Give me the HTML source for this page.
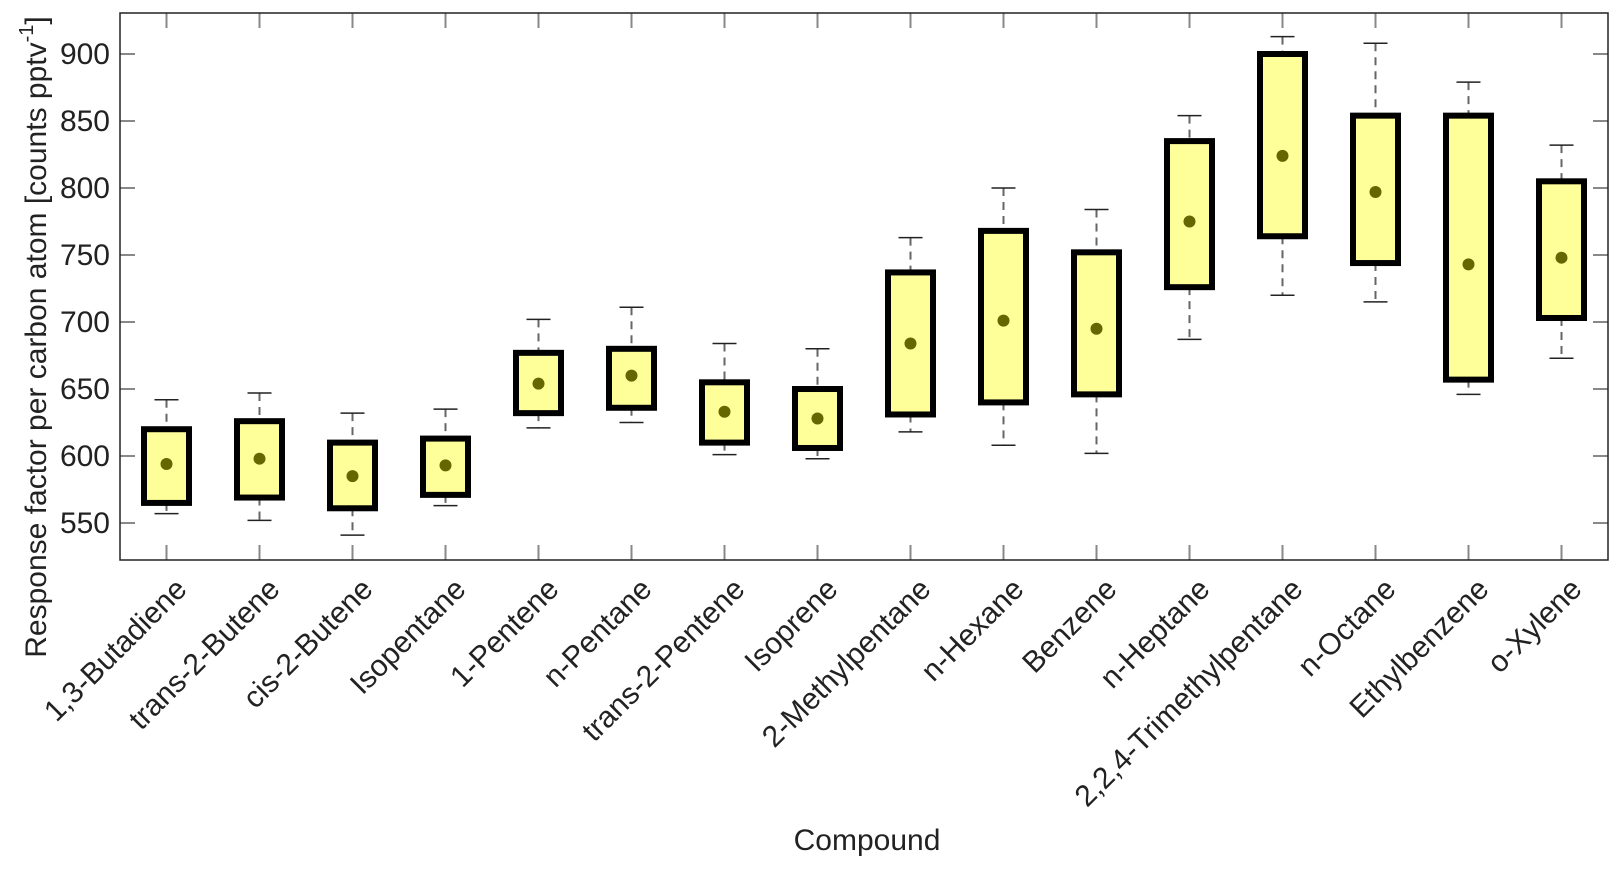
<!DOCTYPE html>
<html><head><meta charset="utf-8"><style>
html,body{margin:0;padding:0;background:#fff;}
svg{display:block;font-family:"Liberation Sans",Arial,sans-serif;}
</style></head><body>
<svg id="chart" width="1623" height="869" viewBox="0 0 1623 869" xmlns="http://www.w3.org/2000/svg">
<g id="grid"></g>
<g id="marks"></g>
<rect x="120" y="13" width="1488" height="547" fill="none" stroke="#222" stroke-width="1.5"/>
<g id="labels"></g>
<text x="867" y="850" font-size="30" text-anchor="middle" fill="#222">Compound</text>
<text transform="translate(46,337) rotate(-90)" font-size="30" text-anchor="middle" fill="#222">Response factor per carbon atom [counts pptv<tspan dy="-13" font-size="20">-1</tspan><tspan dy="13">]</tspan></text>
</svg>
<script>
const categories=["1,3-Butadiene","trans-2-Butene","cis-2-Butene","Isopentane","1-Pentene","n-Pentane","trans-2-Pentene","Isoprene","2-Methylpentane","n-Hexane","Benzene","n-Heptane","2,2,4-Trimethylpentane","n-Octane","Ethylbenzene","o-Xylene"];
const lowWhisker=[557,552,541,563,621,625,601,598,618,608,602,687,720,715,646,673];
const q1=[565,569,561,571,632,636,610,606,631,640,646,726,764,744,657,703];
const median=[594,598,585,593,654,660,633,628,684,701,695,775,824,797,743,748];
const q3=[620,626,610,613,677,680,655,650,737,768,752,835,900,854,854,805];
const highWhisker=[642,647,632,635,702,711,684,680,763,800,784,854,913,908,879,832];
const yTicks=[550,600,650,700,750,800,850,900];

const NS="http://www.w3.org/2000/svg";
const L=120,R=1608,T=13,B=560,yMin=522.4,yMax=930.6;
const xs=i=>L+(i+0.5)*(R-L)/categories.length;
const ys=v=>B-(v-yMin)/(yMax-yMin)*(B-T);
function mk(tag,attrs,parent){const e=document.createElementNS(NS,tag);for(const k in attrs)e.setAttribute(k,attrs[k]);parent.appendChild(e);return e;}
const grid=document.getElementById('grid'),marks=document.getElementById('marks'),labels=document.getElementById('labels');
yTicks.forEach(v=>{
  const y=ys(v);
  let t=mk('line',{x1:L,x2:L+15,y1:y,y2:y,stroke:'#888','stroke-width':2},grid);
  
  
  t=mk('line',{x1:R-15,x2:R,y1:y,y2:y,stroke:'#888','stroke-width':2},grid);
  
  
  const tx=mk('text',{x:L-10,y:y+10,'font-size':30,'text-anchor':'end',fill:'#222'},labels);
  tx.textContent=v;
  
  
});
categories.forEach((c,i)=>{
  const x=xs(i);
  let t=mk('line',{x1:x,x2:x,y1:B-15,y2:B,stroke:'#888','stroke-width':2},grid);
  
  
  t=mk('line',{x1:x,x2:x,y1:T,y2:T+15,stroke:'#888','stroke-width':2},grid);
  
  
  const g=mk('g',{},marks);
  
  
  mk('line',{x1:x,x2:x,y1:ys(highWhisker[i]),y2:ys(q3[i]),stroke:'#666','stroke-width':2,'stroke-dasharray':'8,6'},g);
  mk('line',{x1:x,x2:x,y1:ys(q1[i]),y2:ys(lowWhisker[i]),stroke:'#666','stroke-width':2,'stroke-dasharray':'8,6'},g);
  mk('line',{x1:x-12,x2:x+12,y1:ys(highWhisker[i]),y2:ys(highWhisker[i]),stroke:'#222','stroke-width':1.5},g);
  mk('line',{x1:x-12,x2:x+12,y1:ys(lowWhisker[i]),y2:ys(lowWhisker[i]),stroke:'#222','stroke-width':1.5},g);
  mk('rect',{x:x-22.5,y:ys(q3[i]),width:45,height:ys(q1[i])-ys(q3[i]),fill:'#ffff99',stroke:'#000','stroke-width':6},g);
  mk('circle',{cx:x,cy:ys(median[i]),r:6,fill:'#666600'},g);
  const tx=mk('text',{x:0,y:0,'font-size':30,'text-anchor':'end',fill:'#222',transform:`translate(${x+6},${B+15}) rotate(-45)`,dy:'0.75em'},labels);
  tx.textContent=c;
  
  
});
</script>
</body></html>
